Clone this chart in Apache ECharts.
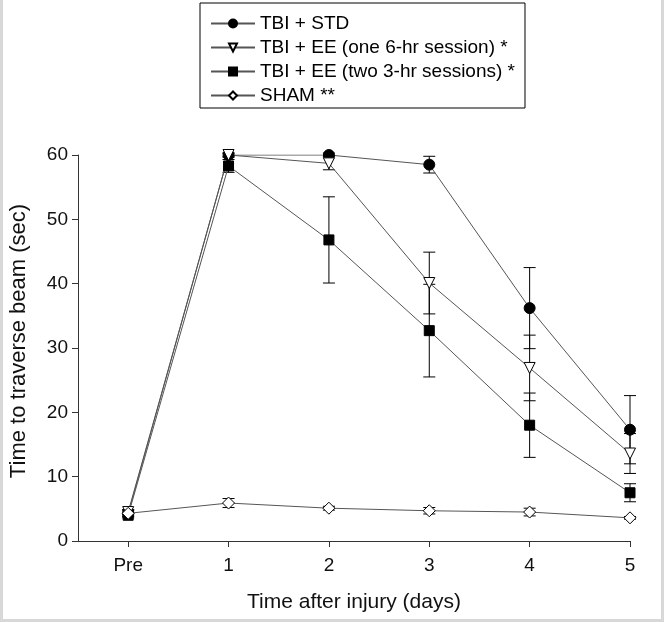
<!DOCTYPE html>
<html><head><meta charset="utf-8">
<script src="https://cdn.jsdelivr.net/npm/echarts@6/dist/echarts.min.js"></script>
<style>html,body{margin:0;padding:0;background:#fff}#c{width:664px;height:622px}</style>
</head><body><div id="c"></div>
<script>
const xLabels = ['Pre','1','2','3','4','5'];
const days = [0,1,2,3,4,5];
const yTicks = [0,10,20,30,40,50,60];
const seriesNames = ['TBI + STD','TBI + EE (one 6-hr session) *','TBI + EE (two 3-hr sessions) *','SHAM **'];
const stdMean = [4.3,60,60,58.5,36.2,17.3];
const stdErr  = [0.5,0.3,0.3,1.3,6.3,5.3];
const ee1Mean = [4.5,60,58.7,40.1,26.9,13.6];
const ee1Err  = [0.4,0.3,1.0,4.8,5.1,3.1];
const ee2Mean = [4.0,58.3,46.8,32.7,18.0,7.5];
const ee2Err  = [0.4,1.0,6.7,7.2,5.0,1.4];
const shamMean = [4.3,5.9,5.1,4.7,4.5,3.6];
const shamErr  = [0.4,0.7,0.3,0.5,0.6,0.2];

const FONT = "'Liberation Sans', Arial, sans-serif";

function errSeries(mean, err, name){
  return {type:'custom', name: name + ' err', silent:true, z:2,
    data: days.map((d,i)=>[d, mean[i]-err[i], mean[i]+err[i]]),
    encode:{x:0, y:[1,2]},
    renderItem:(params, api)=>{
      const x = api.value(0);
      const lo = api.coord([x, api.value(1)]);
      const hi = api.coord([x, api.value(2)]);
      const w = 6;
      const st = {stroke:'#000', lineWidth:1};
      return {type:'group', children:[
        {type:'line', shape:{x1:lo[0],y1:lo[1],x2:hi[0],y2:hi[1]}, style:st},
        {type:'line', shape:{x1:lo[0]-w,y1:lo[1],x2:lo[0]+w,y2:lo[1]}, style:st},
        {type:'line', shape:{x1:hi[0]-w,y1:hi[1],x2:hi[0]+w,y2:hi[1]}, style:st}
      ]};
    }};
}
function lineSeries(mean, name, symbol, size, fill, rot){
  return {type:'line', name:name, data: days.map((d,i)=>[d, mean[i]]),
    symbol:symbol, symbolSize:size, symbolRotate:rot||0, showAllSymbol:true,
    lineStyle:{color:'#555', width:1},
    itemStyle:{color:fill, borderColor:'#000', borderWidth:1},
    emphasis:{disabled:true}, z:3, animation:false};
}

const chart = echarts.init(document.getElementById('c'), null, {renderer:'canvas'});
chart.setOption({
  animation:false,
  textStyle:{fontFamily:FONT},
  grid:{left:77, right:34, top:155, bottom:81, containLabel:false},
  legend:{
    data: seriesNames, orient:'vertical', left:200, top:3,
    itemWidth:44, itemHeight:10, itemGap:5,
    textStyle:{fontSize:19, color:'#000', fontFamily:FONT, lineHeight:19},
    borderColor:'#000', borderWidth:1, backgroundColor:'#fff',
    padding:[11, 10, 3, 10], selectedMode:false
  },
  xAxis:{
    type:'value', min:-0.5, max:5,
    axisLine:{show:true, onZero:false, lineStyle:{color:'#333', width:1}},
    axisTick:{show:true, inside:false, length:6, customValues:days, lineStyle:{color:'#333'}},
    axisLabel:{customValues:days, formatter:v=>xLabels[days.indexOf(v)], fontSize:19, color:'#111', margin:15, fontFamily:FONT},
    splitLine:{show:false},
    name:'Time after injury (days)', nameLocation:'middle', nameGap:51,
    nameTextStyle:{fontSize:21, color:'#111', fontFamily:FONT}
  },
  yAxis:{
    type:'value', min:0, max:60, interval:10,
    axisLine:{show:true, onZero:false, lineStyle:{color:'#333', width:1}},
    axisTick:{show:true, inside:false, length:6, lineStyle:{color:'#333'}},
    axisLabel:{fontSize:19, color:'#111', margin:10, fontFamily:FONT,
      formatter:v=> yTicks.includes(v) ? String(v) : ''},
    splitLine:{show:false},
    name:'Time to traverse beam (sec)', nameLocation:'middle', nameGap:48, nameRotate:90,
    nameTextStyle:{fontSize:22, color:'#111', fontFamily:FONT, padding:[0,0,0,14]}
  },
  graphic:[
    {type:'line', shape:{x1:1.5,y1:0,x2:1.5,y2:622}, style:{stroke:'#d8d8d8', lineWidth:3}, silent:true},
    {type:'line', shape:{x1:662.5,y1:0,x2:662.5,y2:622}, style:{stroke:'#d8d8d8', lineWidth:3}, silent:true},
    {type:'line', shape:{x1:0,y1:620.5,x2:664,y2:620.5}, style:{stroke:'#d8d8d8', lineWidth:3}, silent:true}
  ],
  series:[
    errSeries(stdMean, stdErr, seriesNames[0]),
    errSeries(ee1Mean, ee1Err, seriesNames[1]),
    errSeries(ee2Mean, ee2Err, seriesNames[2]),
    errSeries(shamMean, shamErr, seriesNames[3]),
    lineSeries(stdMean, seriesNames[0], 'circle', 11, '#000'),
    lineSeries(ee1Mean, seriesNames[1], 'triangle', 11, '#fff', 180),
    lineSeries(ee2Mean, seriesNames[2], 'rect', 10, '#000'),
    lineSeries(shamMean, seriesNames[3], 'diamond', 12, '#fff')
  ]
});
</script></body></html>
